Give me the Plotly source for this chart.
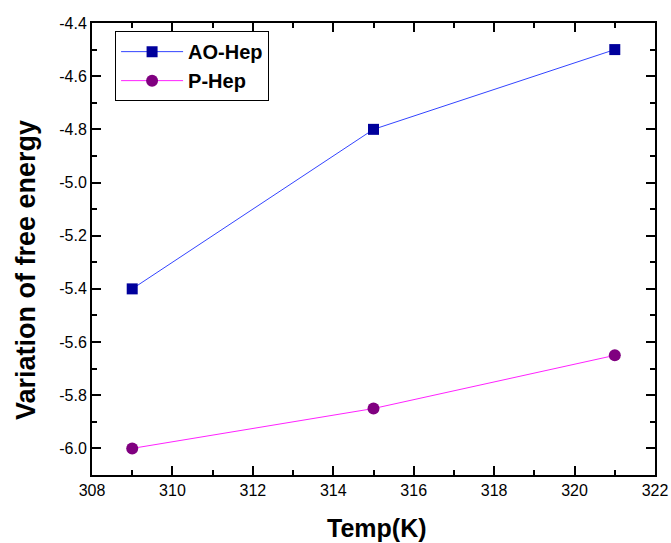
import plotly.graph_objects as go

temps = [309, 315, 321]
ao_hep = [-5.4, -4.8, -4.5]
p_hep = [-6.0, -5.85, -5.65]

y_tick_vals = [-6.0, -5.8, -5.6, -5.4, -5.2, -5.0, -4.8, -4.6, -4.4]
y_tick_text = ["-6.0", "-5.8", "-5.6", "-5.4", "-5.2", "-5.0", "-4.8", "-4.6", "-4.4"]
x_tick_vals = [308, 310, 312, 314, 316, 318, 320, 322]
x_tick_text = ["308", "310", "312", "314", "316", "318", "320", "322"]

FONT = "Arial, Liberation Sans, Helvetica, sans-serif"

fig = go.Figure()
fig.add_trace(go.Scatter(x=temps, y=ao_hep, name="<b>AO-Hep</b>", mode="lines+markers",
                         line=dict(color="#3344FF", width=1),
                         marker=dict(symbol="square", size=11, color="#00009C")))
fig.add_trace(go.Scatter(x=temps, y=p_hep, name="<b>P-Hep</b>", mode="lines+markers",
                         line=dict(color="#FF22FF", width=1),
                         marker=dict(symbol="circle", size=12, color="#800080")))

axis_common = dict(showline=True, linecolor="black", linewidth=2, mirror="ticks",
                   ticks="inside", tickcolor="black", tickwidth=1.5, ticklen=9,
                   showgrid=False, zeroline=False, automargin=False,
                   tickfont=dict(family=FONT, size=16, color="black"))

fig.update_layout(
    width=671, height=543,
    margin=dict(l=92, r=16, t=23, b=68),
    paper_bgcolor="white", plot_bgcolor="white",
    xaxis=dict(range=[308, 322], tickmode="array", tickvals=x_tick_vals, ticktext=x_tick_text,
               minor=dict(dtick=1, tick0=308, ticks="inside", ticklen=5, tickcolor="black", tickwidth=1.5),
               **axis_common),
    yaxis=dict(range=[-6.1, -4.4], tickmode="array", tickvals=y_tick_vals, ticktext=y_tick_text,
               minor=dict(dtick=0.1, tick0=-6.1, ticks="inside", ticklen=5, tickcolor="black", tickwidth=1.5),
               **axis_common),
    legend=dict(x=0.041, y=0.982, xanchor="left", yanchor="top",
                bordercolor="black", borderwidth=1, bgcolor="white",
                font=dict(family=FONT, size=20, color="black"),
                itemwidth=62, tracegroupgap=0),
    font=dict(family=FONT),
    annotations=[
        dict(text="<b>Temp(K)</b>", xref="paper", yref="paper", x=(377 - 92) / 563, y=0,
             yshift=-53, xanchor="center", yanchor="middle", showarrow=False,
             font=dict(family=FONT, size=25, color="black")),
        dict(text="<b>Variation of free energy</b>", xref="paper", yref="paper", x=0, xshift=-66,
             y=(475 - 270) / 452, xanchor="center", yanchor="middle", textangle=-90, showarrow=False,
             font=dict(family=FONT, size=27, color="black")),
    ],
)

fig.write_html(
    "out.html",
    config={"displayModeBar": False},
    post_script=(
        "document.body.style.margin='0';"
        "document.body.style.overflow='hidden';"
        "document.documentElement.style.overflow='hidden';"
    ),
)
